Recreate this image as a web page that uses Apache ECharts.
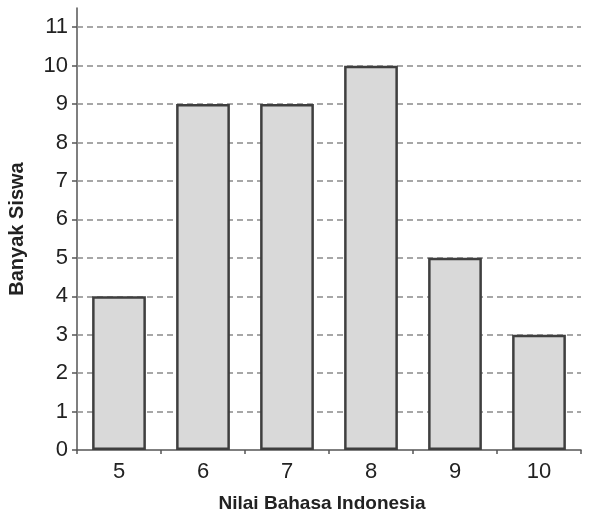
<!DOCTYPE html>
<html><head><meta charset="utf-8">
<script src="https://cdn.jsdelivr.net/npm/echarts@6/dist/echarts.min.js"></script>
<style>html,body{margin:0;padding:0;background:#fff}#c{width:590px;height:512px}</style>
</head><body><div id="c"></div>
<script>
const categories = ['5','6','7','8','9','10'];
const values = [4, 9, 9, 10, 5, 3];
const yTicks = [0,1,2,3,4,5,6,7,8,9,10,11];
const gridValues = [1,2,3,4,5,6,7,8,9,10,11];
const yMax = 11.5;
const xTitle = 'Nilai Bahasa Indonesia';
const yTitle = 'Banyak Siswa';

const chart = echarts.init(document.getElementById('c'), null, {renderer:'canvas'});
const font = 'Liberation Sans, Arial, Helvetica, sans-serif';
chart.setOption({
  animation: false,
  backgroundColor: '#ffffff',
  grid: {left: 77, right: 9, top: 8, bottom: 62, containLabel: false, outerBoundsMode: 'none'},
  xAxis: {
    type: 'category', data: categories,
    name: xTitle, nameLocation: 'middle', nameGap: 44,
    nameTextStyle: {fontFamily: font, fontWeight: 'bold', fontSize: 19, color: '#222', padding: [0, 14, 0, 0]},
    axisLine: {lineStyle: {color: '#555', width: 1.5}},
    axisTick: {show: true, length: 4, lineStyle: {color: '#555', width: 1.5}},
    axisLabel: {fontFamily: font, fontSize: 22, color: '#222', margin: 11}
  },
  yAxis: {
    type: 'value', min: 0, max: yMax, interval: 1,
    name: yTitle, nameLocation: 'middle', nameGap: 50, nameRotate: 90,
    nameTextStyle: {fontFamily: font, fontWeight: 'bold', fontSize: 20, color: '#222'},
    axisLine: {show: true, lineStyle: {color: '#555', width: 1.5}},
    axisTick: {show: true, length: 5, customValues: yTicks, lineStyle: {color: '#555', width: 1.5}},
    axisLabel: {fontFamily: font, fontSize: 22, color: '#222', margin: 9, customValues: yTicks},
    splitLine: {show: false}
  },
  series: [{
    type: 'bar', data: values, barWidth: '64%',
    itemStyle: {color: '#d9d9d9', borderColor: '#3f3f3f', borderWidth: 2.5},
    z: 3,
    markLine: {
      silent: true, symbol: 'none', label: {show: false},
      lineStyle: {color: '#8a8a8a', type: [6, 4], width: 1.5},
      data: gridValues.map(v => ({yAxis: v})),
      z: 1
    }
  }]
});
</script></body></html>
